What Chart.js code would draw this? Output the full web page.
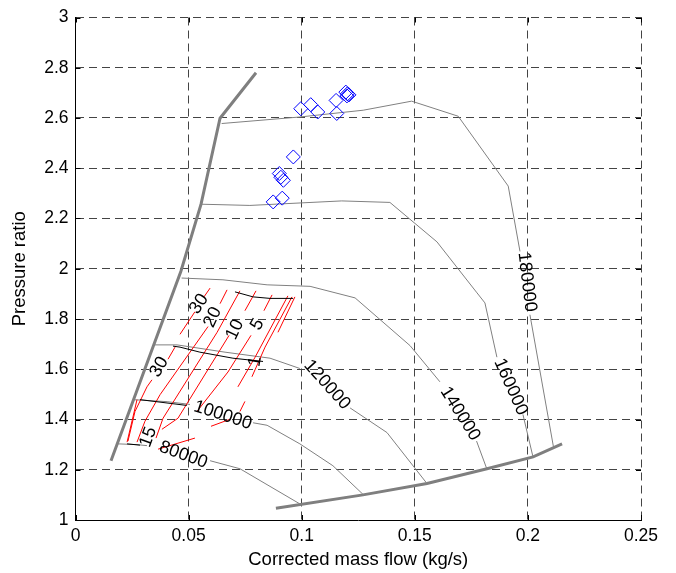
<!DOCTYPE html>
<html>
<head>
<meta charset="utf-8">
<script src="https://cdn.jsdelivr.net/npm/chart.js@4.4.0/dist/chart.umd.min.js"></script>
<style>
  html, body { margin: 0; padding: 0; background: #fff; }
  #map { display: block; }
</style>
</head>
<body>
<canvas id="map" width="676" height="573"></canvas>
<script>
// Compressor map: speed lines, surge / choke limits, efficiency contours, test points

var xTickLabels = ['0', '0.05', '0.1', '0.15', '0.2', '0.25'];
var yTickLabels = ['1', '1.2', '1.4', '1.6', '1.8', '2', '2.2', '2.4', '2.6', '2.8', '3'];

// surge and choke limits  [mass flow, pressure ratio]
var surgeLine = [[0.0157, 1.236], [0.0466, 1.990], [0.0555, 2.257], [0.0639, 2.599], [0.0798, 2.780]];
var chokeLine = [[0.0886, 1.047], [0.1271, 1.100], [0.1554, 1.145], [0.1819, 1.204], [0.2023, 1.251], [0.2151, 1.303]];

// constant speed lines (rpm), null = break under the inline label
var speed80k  = [[0.0188, 1.303], [0.0272, 1.300], [0.0316, 1.296], null, [0.0595, 1.236], [0.0727, 1.204], [0.0992, 1.064]];
var speed100k = [[0.0254, 1.479], [0.0405, 1.471], [0.0506, 1.460], null, [0.0785, 1.387], [0.0847, 1.377], [0.0992, 1.303], [0.1138, 1.216], [0.1271, 1.102]];
var speed120k = [[0.0351, 1.697], [0.0449, 1.697], [0.0661, 1.668], [0.0860, 1.644], [0.0992, 1.603], null, [0.1214, 1.446], [0.1377, 1.348], [0.1554, 1.145]];
var speed140k = [[0.0469, 1.963], [0.0652, 1.956], [0.0847, 1.936], [0.1037, 1.930], [0.1236, 1.884], [0.1479, 1.694], [0.1611, 1.550], null, [0.1773, 1.314], [0.1819, 1.202]];
var speed160k = [[0.0550, 2.257], [0.0771, 2.252], [0.1177, 2.270], [0.1390, 2.264], [0.1598, 2.107], [0.1775, 1.904], [0.1810, 1.864], [0.1863, 1.648], null, [0.1978, 1.420], [0.2022, 1.253]];
var speed180k = [[0.0646, 2.578], [0.0992, 2.604], [0.1272, 2.631], [0.1486, 2.667], [0.1692, 2.607], [0.1913, 2.329], [0.1965, 2.069], null, [0.2009, 1.817], [0.2113, 1.291]];

// red contour pieces
var redLines = [
  [[0.0462, 1.739], [0.0528, 1.829], null, [0.0568, 1.888], [0.0595, 1.923]],
  [[0.0670, 1.916], [0.0639, 1.861], null, [0.0586, 1.770], [0.0374, 1.499], [0.0307, 1.393], [0.0272, 1.310]],
  [[0.0727, 1.912], [0.0626, 1.747], [0.0387, 1.405], [0.0356, 1.326]],
  [[0.0798, 1.912], [0.0749, 1.833], null, [0.0679, 1.735], [0.0453, 1.405], [0.0382, 1.361]],
  [[0.0869, 1.896], [0.0833, 1.833], null, [0.0776, 1.735], [0.0674, 1.589], [0.0537, 1.432]],
  [[0.0939, 1.892], [0.0794, 1.648], [0.0718, 1.530]],
  [[0.0957, 1.888], [0.0838, 1.688], [0.0780, 1.570]],
  [[0.0970, 1.888], [0.0895, 1.747]],
  [[0.0440, 1.688], [0.0409, 1.640], null, [0.0338, 1.558], [0.0316, 1.530], [0.0263, 1.432], [0.0232, 1.314]],
  [[0.0272, 1.479], [0.0228, 1.310]],
  [[0.0599, 1.373], [0.0683, 1.401]],
  [[0.0727, 1.432], [0.0749, 1.472]],
  [[0.0365, 1.282], [0.0528, 1.326]]
];

// black contour pieces
var blackLines = [
  [[0.0705, 1.908], [0.0785, 1.888], [0.0860, 1.882], [0.0962, 1.882]],
  [[0.0431, 1.692], [0.0462, 1.688], [0.0550, 1.668], [0.0696, 1.644], [0.0829, 1.631]],
  [[0.0285, 1.479], [0.0492, 1.456]],
  [[0.0228, 1.303], [0.0285, 1.298]]
];

// measured operating points
var testFlow  = [0.0996, 0.1040, 0.1071, 0.1152, 0.1155, 0.1195, 0.1202, 0.1209, 0.1200, 0.0963, 0.0901, 0.0908, 0.0919, 0.0874, 0.0914];
var testRatio = [2.637, 2.653, 2.624, 2.670, 2.618, 2.703, 2.696, 2.692, 2.688, 2.445, 2.379, 2.364, 2.352, 2.266, 2.281];

// inline contour labels: text, anchor [flow, ratio], rotation (deg)
var labelText  = ['80000', '100000', '120000', '140000', '160000', '180000', '30', '20', '10', '5', '1', '30', '15'];
var labelAt    = [[0.0477, 1.259], [0.0651, 1.417], [0.1112, 1.538], [0.1700, 1.423], [0.1924, 1.530], [0.1996, 1.947],
                  [0.0546, 1.860], [0.0607, 1.807], [0.0705, 1.758], [0.0804, 1.778], [0.0794, 1.631], [0.0370, 1.609], [0.0322, 1.330]];
var labelAngle = [20, 18, 48, 58, 66, 83, -57, -65, -65, -60, -80, -60, -70];


function toXY(pts) {
  return pts.map(function (p) { return p ? { x: p[0], y: p[1] } : { x: null, y: null }; });
}

function lineSet(pts, color, width) {
  return {
    data: toXY(pts),
    showLine: true,
    borderColor: color,
    borderWidth: width,
    pointRadius: 0,
    pointHoverRadius: 0,
    spanGaps: false,
    fill: false,
    tension: 0
  };
}

var datasets = [];
// first dataset ends up on top
datasets.push({
  data: testFlow.map(function (f, i) { return { x: f, y: testRatio[i] }; }),
  showLine: false,
  pointStyle: 'rectRot',
  pointRadius: 7,
  pointHoverRadius: 7,
  borderColor: '#0000ff',
  backgroundColor: 'rgba(0,0,0,0)',
  pointBorderWidth: 1
});
blackLines.forEach(function (l) { datasets.push(lineSet(l, '#000000', 1)); });
redLines.forEach(function (l) { datasets.push(lineSet(l, '#ff0000', 1)); });
[speed80k, speed100k, speed120k, speed140k, speed160k, speed180k].forEach(function (l) {
  datasets.push(lineSet(l, '#808080', 1));
});
datasets.push(lineSet(surgeLine, '#7f7f7f', 3));
datasets.push(lineSet(chokeLine, '#7f7f7f', 3));


// contour labels + inward tick marks
var mapDecor = {
  id: 'mapDecor',
  afterDatasetsDraw: function (chart) {
    var ctx = chart.ctx;
    var xs = chart.scales.x, ys = chart.scales.y;
    ctx.save();
    ctx.fillStyle = '#000';
    ctx.font = '18px "Liberation Sans", Arial, sans-serif';
    ctx.textAlign = 'center';
    ctx.textBaseline = 'middle';
    for (var i = 0; i < labelText.length; i++) {
      var px = xs.getPixelForValue(labelAt[i][0]);
      var py = ys.getPixelForValue(labelAt[i][1]);
      ctx.save();
      ctx.translate(px, py);
      ctx.rotate(labelAngle[i] * Math.PI / 180);
      ctx.fillText(labelText[i], 0, 0);
      ctx.restore();
    }
    ctx.restore();

    var a = chart.chartArea;
    ctx.save();
    ctx.strokeStyle = '#000';
    ctx.lineWidth = 1;
    ctx.beginPath();
    xs.ticks.forEach(function (t) {
      var x = Math.round(xs.getPixelForValue(t.value)) + 0.5;
      ctx.moveTo(x, a.bottom); ctx.lineTo(x, a.bottom - 5);
      ctx.moveTo(x, a.top); ctx.lineTo(x, a.top + 5);
    });
    ys.ticks.forEach(function (t) {
      var y = Math.round(ys.getPixelForValue(t.value)) + 0.5;
      ctx.moveTo(a.left, y); ctx.lineTo(a.left + 5, y);
      ctx.moveTo(a.right, y); ctx.lineTo(a.right - 5, y);
    });
    ctx.stroke();
    ctx.restore();
  }
};

var tickFont = { family: '"Liberation Sans", Arial, sans-serif', size: 17.5 };
var titleFont = { family: '"Liberation Sans", Arial, sans-serif', size: 18.5 };

new Chart(document.getElementById('map'), {
  type: 'scatter',
  data: { datasets: datasets },
  plugins: [mapDecor],
  options: {
    responsive: false,
    animation: false,
    devicePixelRatio: 1,
    events: [],
    layout: { padding: { top: 11, right: 35, bottom: 0, left: 0 } },
    plugins: { legend: { display: false }, tooltip: { enabled: false } },
    scales: {
      x: {
        type: 'linear',
        min: 0, max: 0.25,
        afterFit: function (s) { s.height = 53; },
        ticks: {
          stepSize: 0.05,
          color: '#000',
          font: tickFont,
          padding: 6,
          maxRotation: 0,
          callback: function (v, i) { return xTickLabels[i]; }
        },
        grid: { color: '#444', lineWidth: 1, drawTicks: false },
        border: { display: true, color: '#000', width: 1, dash: [8, 5] },
        title: { display: true, text: 'Corrected mass flow (kg/s)', color: '#000', font: titleFont, padding: { top: 0, bottom: 2 } }
      },
      y: {
        type: 'linear',
        min: 1, max: 3,
        afterFit: function (s) { s.width = 75.5; },
        ticks: {
          stepSize: 0.2,
          color: '#000',
          font: tickFont,
          padding: 7,
          callback: function (v, i) { return yTickLabels[i]; }
        },
        grid: { color: '#444', lineWidth: 1, drawTicks: false },
        border: { display: true, color: '#000', width: 1, dash: [8, 5] },
        title: { display: true, text: 'Pressure ratio', color: '#000', font: titleFont, padding: { top: 9, bottom: 0 } }
      }
    }
  }
});
</script>
</body>
</html>
